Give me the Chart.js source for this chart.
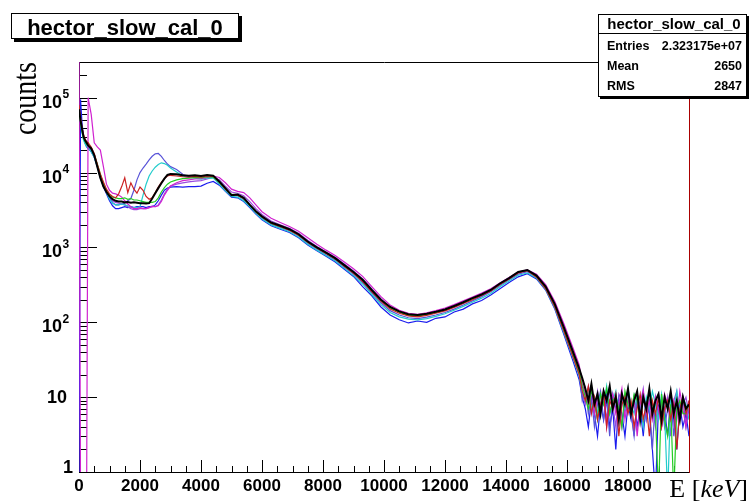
<!DOCTYPE html>
<html>
<head>
<meta charset="utf-8">
<script src="https://cdn.jsdelivr.net/npm/chart.js@4.4.0/dist/chart.umd.min.js"></script>
<style>
  html, body { margin: 0; padding: 0; background: #ffffff; }
  canvas { display: block; }
</style>
</head>
<body>
<canvas id="spectrumChart" width="750" height="504"></canvas>
<script>
// bin energies in keV
const energy = [
  0, 50, 100, 150, 200, 250, 300,
  400, 500, 600, 700, 800, 900, 1000, 1100, 1200, 1300, 1400, 1500, 1600, 1700, 1800, 1900,
  2000, 2100, 2200, 2300, 2400, 2500, 2600, 2700, 2800, 2900,
  3000, 3200, 3400, 3600, 3800, 4000, 4200, 4400, 4600, 4800, 5000, 5200, 5400, 5600, 5800, 6000,
  6300, 6600, 6900, 7200, 7500, 7800, 8100, 8400, 8700, 9000, 9300, 9600, 9900, 10200, 10500, 10800, 11100,
  11400, 11700, 12000, 12300, 12600, 12900, 13200, 13500, 13800, 14100, 14400, 14700, 15000, 15300, 15600, 15900, 16200,
  16400,
  16500, 16600, 16700, 16800, 16900, 17000, 17100, 17200, 17300, 17400, 17500, 17600, 17700, 17800, 17900, 18000, 18100, 18200,
  18300, 18400, 18500, 18600, 18700, 18800, 18900, 19000, 19100, 19200, 19300, 19400, 19500, 19600, 19700, 19800, 19900, 20000
];

const countsBlack = [
  70000, 50000, 38000, 30000, 27000, 25000, 23000,
  21000, 17000, 12000, 8500, 6500, 5500, 4800, 4400, 4200, 4100, 4100, 4000, 4050, 3950, 4000, 3950,
  3900, 3900, 3850, 3900, 4500, 5300, 6200, 7200, 8300, 9300,
  9600, 9500, 9200, 9100, 9200, 9000, 9300, 9100, 7600, 6200, 5000, 5100, 4600, 3700, 3050, 2600,
  2150, 1950, 1750, 1500, 1200, 1000, 850, 720, 580, 470, 370, 270, 200, 160, 140, 128, 125,
  130, 138, 148, 165, 185, 210, 235, 270, 330, 390, 470, 500, 420, 300, 175, 85, 40,
  24,
  18, 13, 9, 15, 8, 11, 6, 12, 9, 14, 7, 10, 5, 11, 8, 13, 6, 9,
  12, 5, 10, 7, 13, 6, 9, 11, 5, 10, 7, 12, 6, 9, 5, 10, 7, 8
];

const countsRed = [
  80000, 55000, 40000, 32000, 28000, 26000, 25000,
  22000, 18000, 13000, 9500, 7500, 6000, 5200, 4800, 4600, 5200, 6500, 8500, 5400, 7300, 6000, 5300,
  6400, 5800, 4800, 4400, 4600, 5400, 6400, 7400, 8300, 9000,
  9200, 9000, 8800, 8700, 8900, 8700, 9000, 8900, 7500, 6000, 5000, 5000, 4500, 3700, 3000, 2550,
  2100, 1900, 1700, 1450, 1170, 980, 830, 700, 560, 450, 350, 255, 190, 150, 132, 122, 118,
  124, 132, 142, 158, 178, 200, 228, 262, 320, 380, 455, 490, 400, 280, 160, 75, 34,
  20,
  12, 9, 14, 6, 10, 5, 8, 12, 4, 9, 7, 11, 3, 8, 10, 6, 9, 4,
  7, 11, 5, 8, 3, 9, 6, 10, 4, 7, 9, 5, 8, 2, 7, 10, 6, 9
];

const countsGreen = [
  65000, 48000, 36000, 29000, 26000, 24000, 23000,
  21000, 17500, 13000, 9500, 7200, 5800, 5000, 4700, 4600, 4500, 4500, 4600, 4400, 4500, 4300, 4300,
  4200, 4100, 4000, 4000, 4000, 4100, 4600, 5500, 6300, 7000,
  7500, 8000, 8300, 8400, 8600, 8500, 8800, 8700, 7400, 6000, 5100, 5000, 4500, 3700, 3000, 2550,
  2100, 1900, 1720, 1480, 1180, 990, 840, 710, 570, 460, 360, 262, 195, 155, 136, 124, 121,
  127, 135, 145, 162, 182, 206, 232, 268, 325, 385, 462, 495, 410, 290, 168, 80, 37,
  22,
  14, 10, 7, 12, 9, 5, 11, 8, 13, 6, 9, 10, 7, 4, 12, 8, 6, 11,
  9, 5, 10, 7, 12, 8, 6, 0.5, 11, 5, 3, 8, 0.5, 7, 9, 6, 6, 8
];

const countsBlue = [
  0.5, 95000, 45000, 30000, 25000, 22000, 21000,
  19000, 16000, 12000, 8500, 6500, 5200, 4200, 3600, 3300, 3300, 3400, 3500, 3400, 3500, 3400, 3500,
  3500, 3500, 3400, 3500, 3500, 3700, 4200, 5000, 5800, 6200,
  6400, 6500, 6400, 6500, 6500, 6600, 7200, 7600, 6800, 5600, 4700, 4600, 4100, 3400, 2800, 2350,
  1950, 1750, 1580, 1350, 1080, 900, 760, 640, 510, 410, 300, 225, 160, 125, 108, 98, 104,
  100, 113, 118, 137, 150, 176, 195, 232, 280, 340, 405, 445, 380, 270, 150, 68, 30,
  17,
  10, 7, 4, 9, 6, 3, 8, 5, 11, 4, 7, 2, 9, 6, 3, 8, 5, 10,
  4, 7, 3, 9, 6, 2, 0.5, 8, 4, 7, 3, 9, 5, 2, 8, 4, 6, 3
];

const countsMagenta = [
  400000, 0.5, 0.5, 0.5, 0.5, 0.5, 100000,
  60000, 25000, 22000, 20000, 12000, 7000, 5800, 5300, 5200, 5000, 4700, 4200, 3800, 3500, 3300, 3300,
  3400, 3300, 3300, 3400, 3500, 3500, 3600, 4100, 5000, 5800,
  6600, 7300, 7800, 8000, 8200, 8300, 8600, 9000, 8600, 7300, 6000, 5600, 5400, 4600, 3700, 3000,
  2450, 2150, 1900, 1650, 1350, 1100, 920, 780, 640, 520, 410, 300, 220, 170, 145, 132, 128,
  134, 143, 155, 172, 193, 218, 245, 280, 335, 395, 470, 500, 440, 320, 190, 95, 45,
  27,
  15, 11, 8, 13, 6, 10, 7, 12, 4, 9, 11, 6, 8, 13, 5, 9, 7, 10,
  3, 8, 12, 6, 9, 5, 10, 7, 4, 11, 8, 6, 9, 5, 12, 7, 4, 9
];

const countsCyan = [
  55000, 45000, 34000, 27000, 24000, 22000, 21000,
  19000, 16000, 12000, 8800, 6800, 5400, 4400, 3900, 3700, 3700, 3800, 3700, 3600, 3500, 3400, 3400,
  3500, 5000, 7000, 9000, 10500, 11800, 12800, 13500, 13200, 12500,
  11500, 10200, 9000, 8600, 8400, 8200, 8400, 8500, 7000, 5700, 4800, 4700, 4200, 3500, 2850, 2400,
  2000, 1800, 1620, 1380, 1100, 920, 780, 660, 525, 420, 325, 235, 172, 135, 118, 110, 108,
  112, 120, 130, 145, 163, 185, 210, 243, 298, 355, 425, 455, 390, 275, 155, 72, 33,
  19,
  12, 9, 13, 7, 10, 6, 11, 8, 14, 6, 9, 12, 5, 10, 7, 13, 8, 6,
  11, 9, 4, 10, 7, 12, 8, 5, 11, 6, 0.5, 9, 7, 12, 6, 10, 8, 5
];

const countsSlate = [
  75000, 52000, 37000, 30000, 26000, 24000, 22500,
  20000, 17000, 12500, 9000, 6900, 5500, 4600, 4000, 3700, 3700, 3800, 3900, 4200, 4500, 5800, 8000,
  10000, 11500, 13000, 14800, 16500, 17800, 18000, 16500, 14500, 13000,
  12000, 11000, 9500, 8800, 8800, 8600, 8800, 8700, 7300, 5900, 5000, 4900, 4400, 3600, 2900, 2450,
  2050, 1850, 1680, 1430, 1140, 950, 800, 680, 545, 440, 340, 248, 182, 143, 125, 115, 112,
  117, 125, 135, 150, 170, 193, 220, 255, 310, 370, 440, 475, 400, 285, 162, 78, 36,
  21,
  9, 13, 6, 10, 4, 8, 12, 5, 9, 3, 11, 7, 10, 4, 8, 12, 6, 3,
  9, 7, 11, 5, 8, 2, 10, 6, 9, 4, 7, 11, 3, 8, 6, 10, 4, 7
];

const countsPurple = [
  60000, 46000, 35000, 28000, 25000, 23000, 22000,
  20000, 17000, 12500, 9000, 7000, 5600, 4700, 4200, 4000, 3900, 3800, 3700, 3500, 3300, 3200, 3200,
  3300, 3300, 3300, 3400, 3600, 3500, 3700, 4300, 5200, 6000,
  6600, 7000, 7300, 7500, 7700, 7800, 8200, 8700, 8000, 6600, 5500, 5300, 4900, 4100, 3300, 2750,
  2250, 2000, 1800, 1550, 1250, 1030, 870, 740, 600, 485, 380, 280, 205, 160, 138, 126, 123,
  129, 138, 150, 167, 188, 212, 240, 275, 330, 392, 468, 498, 425, 305, 178, 88, 41,
  25,
  11, 8, 14, 9, 6, 12, 7, 10, 5, 13, 8, 4, 11, 9, 6, 12, 7, 3,
  10, 8, 13, 5, 9, 7, 4, 11, 8, 6, 10, 3, 9, 12, 5, 8, 10, 6
];

const histTitle = 'hector_slow_cal_0';
const statsRows = [['Entries', '2.323175e+07'], ['Mean', '2650'], ['RMS', '2847']];
const yDecades = [1, 10, 100, 1000, 10000, 100000];

const sansBold = "bold {s}px 'Liberation Sans', Arial, sans-serif";
const serif = "'Liberation Serif', 'Times New Roman', serif";

function font(size) {
  return sansBold.replace('{s}', size);
}

const rootFrame = {
  id: 'rootFrame',
  beforeDatasetsDraw(chart) {
    const { ctx, chartArea: a, scales: { x, y } } = chart;
    ctx.save();
    ctx.lineWidth = 1;
    ctx.strokeStyle = '#000';
    ctx.beginPath();
    // x ticks, pointing into the frame
    for (let v = 0; v <= 20000; v += 500) {
      const px = Math.round(x.getPixelForValue(v)) + 0.5;
      const len = v % 2000 === 0 ? 12 : 6;
      ctx.moveTo(px, a.bottom);
      ctx.lineTo(px, a.bottom - len);
    }
    // y ticks, major per decade and minor 2..9
    yDecades.forEach(d => {
      for (let k = 1; k <= 9; k++) {
        const v = d * k;
        if (v > y.max) break;
        const py = Math.round(y.getPixelForValue(v)) + 0.5;
        ctx.moveTo(a.left, py);
        ctx.lineTo(a.left + (k === 1 ? 18 : 8), py);
      }
    });
    ctx.stroke();

    ctx.beginPath();
    ctx.moveTo(a.right + 0.5, a.top + 0.5);
    ctx.lineTo(a.left + 0.5, a.top + 0.5);
    ctx.lineTo(a.left + 0.5, a.bottom + 0.5);
    ctx.lineTo(a.right + 0.5, a.bottom + 0.5);
    ctx.stroke();
    ctx.strokeStyle = '#aa0000';
    ctx.beginPath();
    ctx.moveTo(a.right + 0.5, a.top);
    ctx.lineTo(a.right + 0.5, a.bottom + 1);
    ctx.stroke();
    ctx.restore();
  },
  afterDraw(chart) {
    const { ctx, scales: { y } } = chart;
    ctx.save();
    ctx.fillStyle = '#000';

    // y labels, 10^n with raised exponent
    ctx.textAlign = 'right';
    ctx.textBaseline = 'alphabetic';
    yDecades.forEach((d, n) => {
      const ty = y.getPixelForValue(d);
      ctx.font = font(18);
      if (n === 0) {
        ctx.fillText('1', 73, ty + 1);
      } else if (n === 1) {
        ctx.fillText('10', 67, ty + 6);
      } else {
        ctx.textAlign = 'right';
        ctx.fillText('10', 62, ty + 10);
        ctx.font = font(12);
        ctx.textAlign = 'left';
        ctx.fillText(String(n), 62.5, ty + 0.5);
        ctx.textAlign = 'right';
      }
    });

    // axis titles
    ctx.save();
    ctx.translate(36, 62);
    ctx.rotate(-Math.PI / 2);
    ctx.scale(1, 1.2);
    ctx.font = '28px ' + serif;
    ctx.textAlign = 'right';
    ctx.fillText('counts', 0, 0);
    ctx.restore();

    const parts = [['E ', '26px ' + serif], ['[', '26px ' + serif], ['keV', 'italic 26px ' + serif], [']', '26px ' + serif]];
    let total = 0;
    parts.forEach(p => { ctx.font = p[1]; total += ctx.measureText(p[0]).width; });
    let cx = 748 - total;
    ctx.textAlign = 'left';
    parts.forEach(p => {
      ctx.font = p[1];
      ctx.fillText(p[0], cx, 497);
      cx += ctx.measureText(p[0]).width;
    });

    // title box with shadow
    ctx.fillStyle = '#000';
    ctx.fillRect(14, 16, 228, 26);
    ctx.fillStyle = '#fff';
    ctx.fillRect(11, 13, 228, 26);
    ctx.strokeStyle = '#000';
    ctx.lineWidth = 1;
    ctx.strokeRect(11.5, 13.5, 227, 25);
    ctx.fillStyle = '#000';
    ctx.font = font(22);
    ctx.textAlign = 'center';
    ctx.fillText(histTitle, 125, 35);

    // stats box
    ctx.fillRect(600, 16, 149, 83);
    ctx.fillStyle = '#fff';
    ctx.fillRect(598, 14, 149, 83);
    ctx.strokeRect(598.5, 14.5, 148, 82);
    ctx.beginPath();
    ctx.moveTo(598, 33.5);
    ctx.lineTo(747, 33.5);
    ctx.stroke();
    ctx.fillStyle = '#000';
    ctx.font = font(15);
    ctx.fillText(histTitle, 674, 29);
    ctx.font = font(12.5);
    statsRows.forEach((row, i) => {
      const by = 50 + i * 20;
      ctx.textAlign = 'left';
      ctx.fillText(row[0], 607, by);
      ctx.textAlign = 'right';
      ctx.fillText(row[1], 742, by);
    });
    ctx.restore();
  }
};

function series(label, values, color, width) {
  return {
    label: label,
    data: energy.map((e, i) => ({ x: e, y: values[i] })),
    borderColor: color,
    borderWidth: width,
    pointRadius: 0,
    fill: false,
    tension: 0
  };
}

document.addEventListener('DOMContentLoaded', () => {
  const ctx = document.getElementById('spectrumChart').getContext('2d');
  new Chart(ctx, {
    type: 'line',
    data: {
      datasets: [
        series('black', countsBlack, '#000000', 2),
        series('red', countsRed, '#cc2222', 1.2),
        series('green', countsGreen, '#22cc22', 1.2),
        series('magenta', countsMagenta, '#d022d0', 1.2),
        series('cyan', countsCyan, '#22cccc', 1.2),
        series('slate', countsSlate, '#5954d8', 1.2),
        series('purple', countsPurple, '#9a4ae0', 1.2),
        series('blue', countsBlue, '#1a1aee', 1.2)
      ]
    },
    options: {
      responsive: false,
      animation: false,
      devicePixelRatio: 1,
      layout: { padding: { top: 62, right: 61, left: 0, bottom: 0 } },
      plugins: { legend: { display: false }, tooltip: { enabled: false } },
      scales: {
        x: {
          type: 'linear',
          min: 0,
          max: 20000,
          afterFit: s => { s.height = 32; },
          grid: { display: false, drawTicks: false },
          border: { display: false },
          ticks: {
            stepSize: 2000,
            autoSkip: false,
            maxRotation: 0,
            padding: 4,
            color: '#000',
            font: { family: "'Liberation Sans', Arial, sans-serif", size: 17, weight: 'bold' },
            callback: v => (v >= 20000 ? '' : String(v))
          }
        },
        y: {
          type: 'logarithmic',
          min: 1,
          max: 300000,
          afterFit: s => { s.width = 79; },
          grid: { display: false, drawTicks: false },
          border: { display: false },
          ticks: { display: false }
        }
      }
    },
    plugins: [rootFrame]
  });
});
</script>
</body>
</html>
